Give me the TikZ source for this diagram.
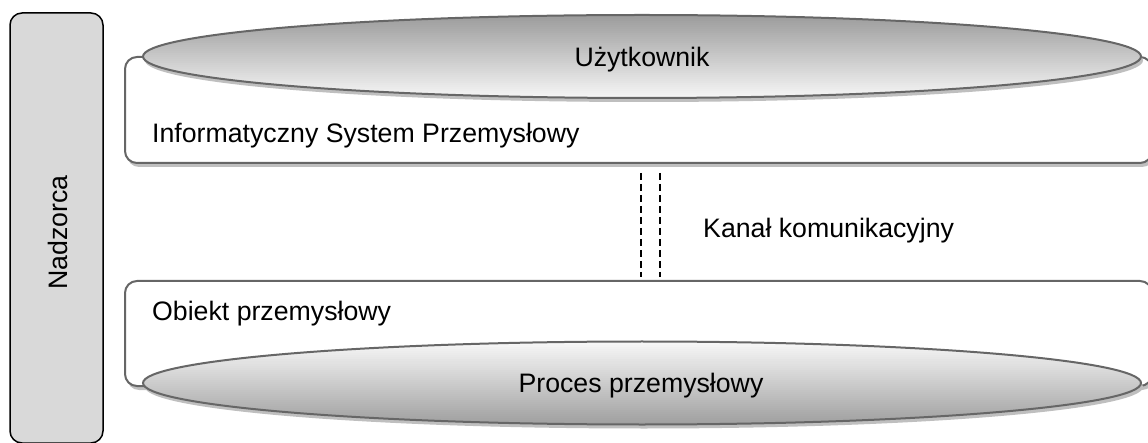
\documentclass[tikz,border=0pt]{standalone}
\usepackage{fontspec}
\setmainfont{Liberation Sans}
\usetikzlibrary{shapes.geometric}

\definecolor{edgegray}{HTML}{666666}
\definecolor{shadowgray}{HTML}{BFBFBF}
\definecolor{sidefill}{HTML}{D9D9D9}
\definecolor{shadedark}{HTML}{9C9C9C}
\definecolor{shadelight}{HTML}{F8F8F8}

\tikzset{
  lbl/.style={font=\fontsize{26.7}{30}\selectfont, inner sep=0pt, text=black},
  softshadow/.style={preaction={draw=none, fill=shadowgray,
      transform canvas={xshift=2pt, yshift=-4pt}}},
  panel/.style={draw=edgegray, line width=2pt, fill=white, rounded corners=12pt,
      rectangle, inner sep=0pt, softshadow},
  disc/.style={ellipse, draw=none, inner sep=0pt,
      minimum width=998pt, minimum height=83pt},
  discedge/.style={draw=edgegray, line width=2pt},
  sidebox/.style={draw=black, line width=1.5pt, fill=sidefill, rounded corners=12pt,
      rectangle, inner sep=0pt},
  channel/.style={draw=black, line width=1.5pt, dash pattern=on 7pt off 4pt},
}

% flat ellipse on a named node: drop shadow, vertical grey fade, outline;
% #2 = 1 gives a dark top edge, 0 a dark bottom edge
\newcommand\fadedisc[2]{%
  \fill[shadowgray] ([xshift=2pt,yshift=-4pt]#1.center) ellipse [x radius=499pt, y radius=41.5pt];
  \begin{scope}
    \clip (#1.center) ellipse [x radius=499pt, y radius=41.5pt];
    \foreach \i in {0,...,42} {
      \pgfmathsetmacro\mixpct{#2==1 ? 100-\i*100/42 : \i*100/42}
      \fill[shadedark!\mixpct!shadelight]
        ([yshift=-\i*2pt+41.5pt]#1.center) ++(-500,0) rectangle ++(1000,2.6);
    }
  \end{scope}
  \draw[discedge] (#1.center) ellipse [x radius=499pt, y radius=41.5pt];
}

\begin{document}
\begin{tikzpicture}[x=1pt, y=-1pt]
  \useasboundingbox (0,0) rectangle (1148,443);

  % supervisor column on the left
  \node[sidebox, minimum width=93pt, minimum height=430pt] (nadz) at (56.5,228) {};
  \node[lbl, rotate=90, anchor=base] (nadzt) at (67,232.5) {Nadzorca};

  % upper layer: information system with the user on top
  \node[panel, minimum width=1027pt, minimum height=106pt] (isp) at (638.5,110) {};
  \node[disc] (user) at (642,56.5) {};
  \fadedisc{user}{1}
  \node[lbl, anchor=base] (usert) at (642,67) {Użytkownik};
  \node[lbl, anchor=base west] (ispt) at (152,143) {Informatyczny System Przemysłowy};

  % lower layer: industrial object with its process below
  \node[panel, minimum width=1027pt, minimum height=105pt] (obj) at (638.5,333.5) {};
  \node[disc] (proc) at (642,383) {};
  \fadedisc{proc}{0}
  \node[lbl, anchor=base west] (objt) at (152,321) {Obiekt przemysłowy};
  \node[lbl, anchor=base] (proct) at (641,392) {Proces przemysłowy};

  % communication channel between the layers
  \coordinate (ch1) at (641,0);
  \coordinate (ch2) at (660,0);
  \draw[channel, shorten <=9pt, shorten >=3pt] (ch1 |- isp.south) -- (ch1 |- obj.north);
  \draw[channel, shorten <=9pt, shorten >=3pt] (ch2 |- isp.south) -- (ch2 |- obj.north);
  \node[lbl, anchor=base west] (chant) at (703,238) {Kanał komunikacyjny};
\end{tikzpicture}
\end{document}
